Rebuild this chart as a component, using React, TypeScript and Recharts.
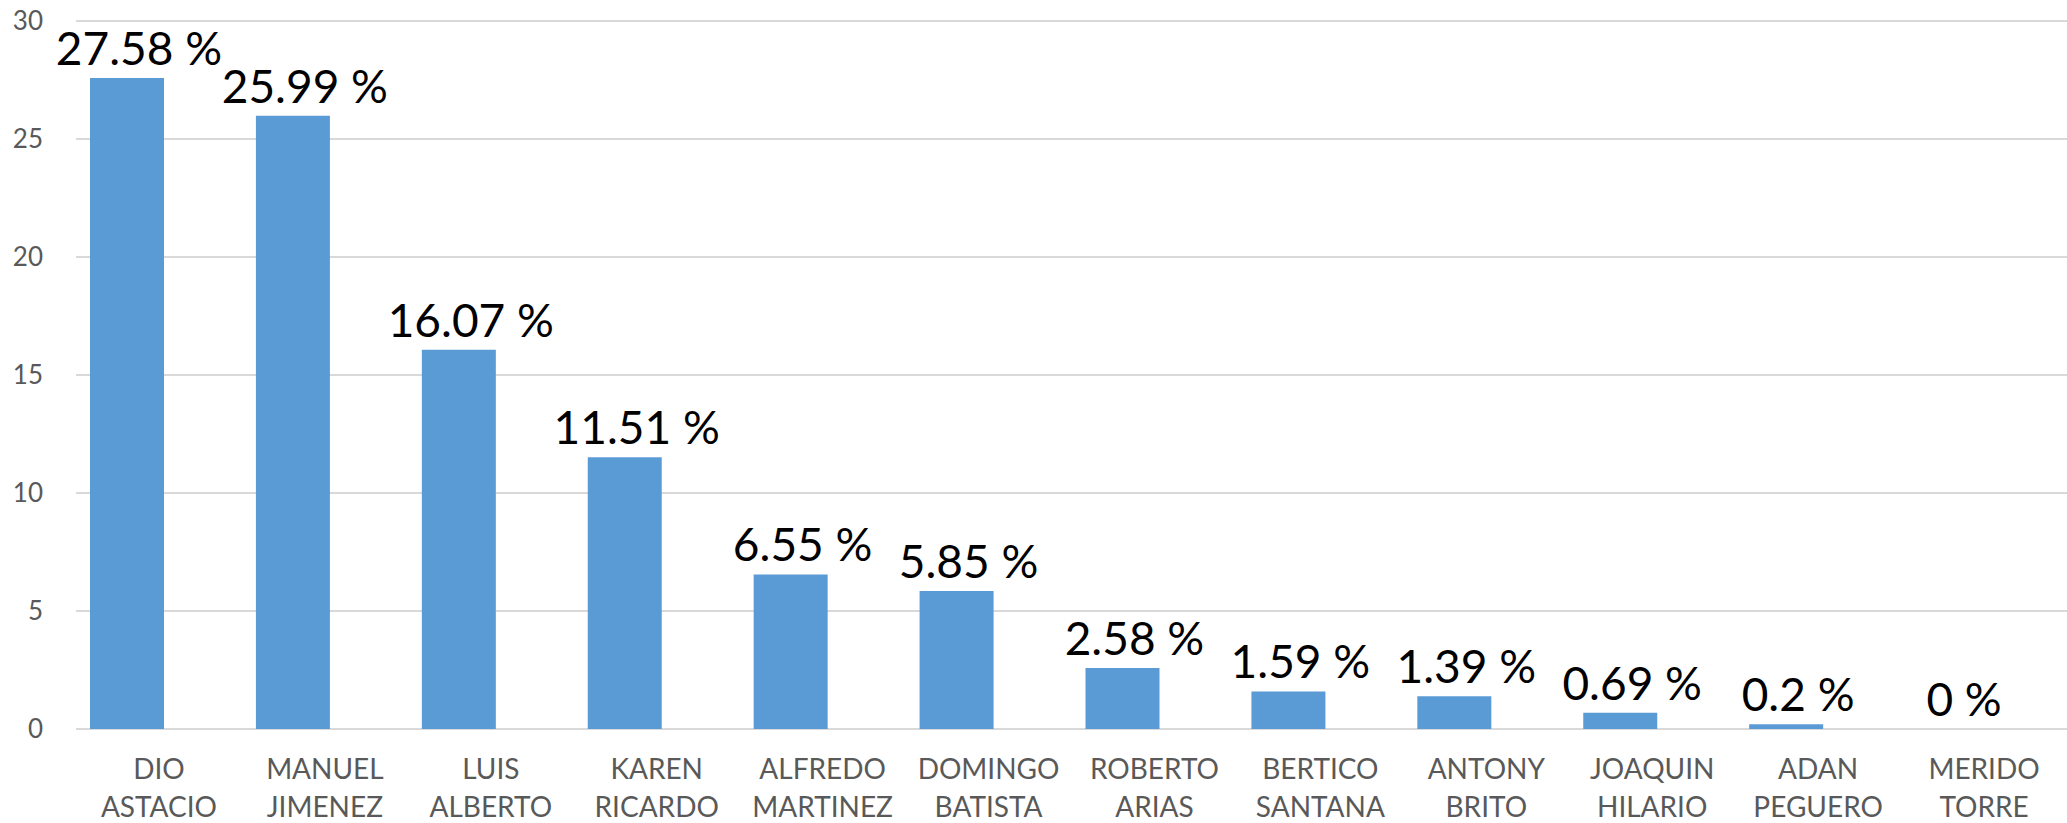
import React from 'react';
import { ComposedChart, Bar, Line, XAxis, YAxis, CartesianGrid, LabelList } from 'recharts';

const categories: string[] = [
  'DIO\nASTACIO',
  'MANUEL\nJIMENEZ',
  'LUIS\nALBERTO',
  'KAREN\nRICARDO',
  'ALFREDO\nMARTINEZ',
  'DOMINGO\nBATISTA',
  'ROBERTO\nARIAS',
  'BERTICO\nSANTANA',
  'ANTONY\nBRITO',
  'JOAQUIN\nHILARIO',
  'ADAN\nPEGUERO',
  'MERIDO\nTORRE',
];

const percentages: number[] = [27.58, 25.99, 16.07, 11.51, 6.55, 5.85, 2.58, 1.59, 1.39, 0.69, 0.2, 0];

const yTicks: number[] = [0, 5, 10, 15, 20, 25, 30];

const data = categories.map((name, i) => ({
  name,
  value: percentages[i],
  blank: 0,
}));

const FONT = 'Lato, "Open Sans", sans-serif';

const XTick = (props: any) => {
  const { x, y, payload } = props;
  const lines = String(payload.value).split('\n');
  return (
    <text x={x} y={y} textAnchor="middle" fill="#595959" fontSize={28} fontFamily={FONT}>
      {lines.map((l, i) => (
        <tspan key={i} x={x} dy={i === 0 ? 50 : 38}>
          {l}
        </tspan>
      ))}
    </text>
  );
};

const ValueLabel = (props: any) => {
  const { x, y, value } = props;
  return (
    <text
      x={Number(x) - 20}
      y={Number(y) - 13}
      textAnchor="middle"
      fill="#000000"
      fontSize={46}
      fontFamily={FONT}
    >
      {`${value} %`}
    </text>
  );
};

export default function App() {
  return (
    <div
      style={{
        position: 'absolute',
        left: 0,
        top: 0,
        width: 2067,
        height: 823,
        overflow: 'hidden',
        background: '#ffffff',
      }}
    >
      <ComposedChart
        width={2067}
        height={823}
        data={data}
        margin={{ top: 21, right: 0, left: 0, bottom: 0 }}
        barGap={0}
      >
        <CartesianGrid vertical={false} stroke="#D9D9D9" strokeWidth={2} />
        <XAxis
          dataKey="name"
          interval={0}
          axisLine={false}
          tickLine={false}
          tickSize={0}
          tickMargin={0}
          height={94}
          tick={<XTick />}
        />
        <YAxis
          width={76}
          domain={[0, 30]}
          ticks={yTicks}
          axisLine={false}
          tickLine={false}
          tickSize={0}
          tickMargin={33}
          tick={{ fill: '#595959', fontSize: 26, fontFamily: FONT }}
        />
        <Bar dataKey="value" fill="#5B9BD5" barSize={74} isAnimationActive={false} />
        <Bar dataKey="blank" fill="transparent" barSize={64} isAnimationActive={false} />
        <Line
          dataKey="value"
          stroke="none"
          dot={false}
          activeDot={false}
          legendType="none"
          isAnimationActive={false}
        >
          <LabelList dataKey="value" content={<ValueLabel />} />
        </Line>
      </ComposedChart>
    </div>
  );
}
